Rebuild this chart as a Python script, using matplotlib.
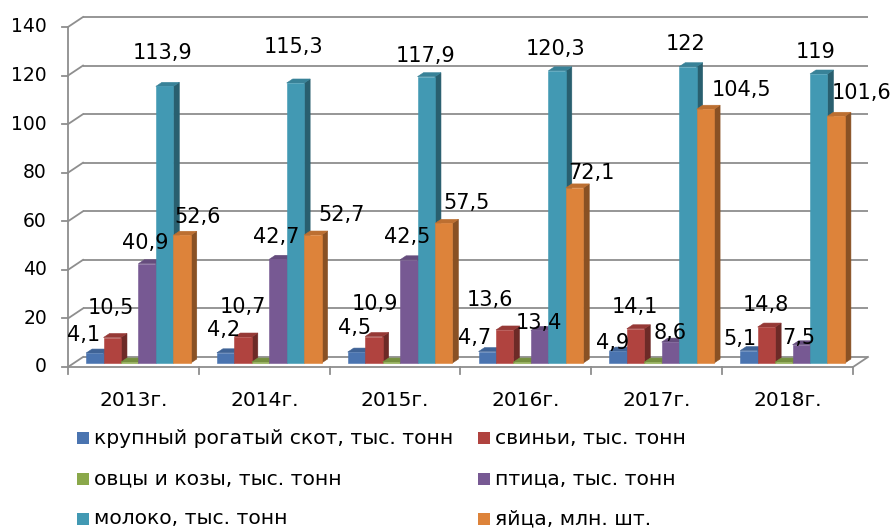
import matplotlib
matplotlib.use('Agg')
import matplotlib.pyplot as plt
from matplotlib.patches import Polygon, Rectangle
import numpy as np

plt.rcParams['font.family'] = ['DejaVu Sans']

# ---------------- data ----------------
years = ['2013г.', '2014г.', '2015г.', '2016г.', '2017г.', '2018г.']
series_names = ['крупный рогатый скот, тыс. тонн', 'свиньи, тыс. тонн',
                'овцы и козы, тыс. тонн', 'птица, тыс. тонн',
                'молоко, тыс. тонн', 'яйца, млн. шт.']
cattle = [4.1, 4.2, 4.5, 4.7, 4.9, 5.1]
pigs = [10.5, 10.7, 10.9, 13.6, 14.1, 14.8]
sheep = [0.4, 0.4, 0.4, 0.4, 0.4, 0.4]
poultry = [40.9, 42.7, 42.5, 13.4, 8.6, 7.5]
milk = [113.9, 115.3, 117.9, 120.3, 122, 119]
eggs = [52.6, 52.7, 57.5, 72.1, 104.5, 101.6]
y_ticks = [0, 20, 40, 60, 80, 100, 120, 140]

series = [cattle, pigs, sheep, poultry, milk, eggs]
show_labels = [True, True, False, True, True, True]

# ---------------- style ----------------
front_colors = ['#4a74b0', '#b0433f', '#8aa84a', '#775993', '#4299b3', '#dd833a']

def shade(hex_color, f):
    r, g, b = matplotlib.colors.to_rgb(hex_color)
    return (r * f, g * f, b * f)

# label offsets (pixels, right / up) relative to bar front-top centre
label_offsets = [
    [(-11, 18), (-2, 23), (-2, 24), (-13, 14), (-6, 8), (-9, 12)],
    [(-1, 30), (0, 30), (1, 33), (-15, 30), (-1, 22), (-1, 22)],
    [(0, 0)] * 6,
    [(-2, 21), (-2, 22), (-2, 23), (-1, 7), (0, 9), (-2, 7)],
    [(-2, 33), (-2, 36), (-1, 21), (-2, 22), (-2, 23), (-3, 22)],
    [(16, 18), (29, 20), (23, 20), (17, 15), (36, 19), (25, 23)],
]

W, H = 893, 529
fig = plt.figure(figsize=(W / 100, H / 100), dpi=100)
X0, X1 = 68, 853     # front x-axis extent (px)
Y0, Y1 = 367, 27     # front y of 0 and 140 (px from top)
ax = fig.add_axes([X0 / W, 1 - Y0 / H, (X1 - X0) / W, (Y0 - Y1) / H])
ncat = len(years)
ax.set_xlim(0, ncat)
ax.set_ylim(0, 140)
ax.axis('off')

sx = (X1 - X0) / ncat
sy = (Y0 - Y1) / 140.0

def off(px, py):
    return px / sx, py / sy

grid_col = '#8e8e8e'
glw = 1.3
wx, wy = off(15, 10)

# back wall gridlines + side-wall diagonals + y ticks
for t in y_ticks:
    ax.plot([wx, ncat + wx], [t + wy, t + wy], color=grid_col, lw=glw, zorder=1, clip_on=False,
            solid_capstyle='butt')
    ax.plot([0, wx], [t, t + wy], color=grid_col, lw=glw, zorder=1, clip_on=False)
    tx, _ = off(6, 0)
    ax.plot([-tx, 0], [t, t], color=grid_col, lw=glw, zorder=1, clip_on=False)
    lx, _ = off(21, 0)
    ax.text(-lx, t, str(t), ha='right', va='center', fontsize=13.5, color='#000000')

# front axis lines
ax.plot([0, 0], [0, 140], color=grid_col, lw=glw, zorder=1, clip_on=False)
ax.plot([0, ncat], [0, 0], color=grid_col, lw=glw, zorder=1, clip_on=False)
ax.plot([ncat, ncat + wx], [0, wy], color=grid_col, lw=glw, zorder=1, clip_on=False)
_, tky = off(0, 7)
for c in range(ncat + 1):
    ax.plot([c, c], [0, -tky], color=grid_col, lw=glw, zorder=1, clip_on=False)
_, cly = off(0, 33)
for c, yr in enumerate(years):
    ax.text(c + 0.5, -cly, yr, ha='center', va='center', fontsize=14.5, color='#000000')

# bars
nser = len(series)
bw = 0.8 / nser
bxo, byo = off(5, 4)
dx, dy = off(6, 4)
for c in range(ncat):
    for i in range(nser):
        v = series[i][c]
        fcol = front_colors[i]
        scol = shade(fcol, 0.62)
        tcol = shade(fcol, 0.85)
        xl = c + 0.1 + i * bw + bxo
        xr = xl + bw
        yb = byo
        yt = v + byo
        ax.add_patch(Polygon([(xr, yb), (xr + dx, yb + dy), (xr + dx, yt + dy), (xr, yt)],
                             closed=True, facecolor=scol, edgecolor=scol, lw=0.4, zorder=3,
                             clip_on=False))
        ax.add_patch(Polygon([(xl, yt), (xr, yt), (xr + dx, yt + dy), (xl + dx, yt + dy)],
                             closed=True, facecolor=tcol, edgecolor=tcol, lw=0.4, zorder=3,
                             clip_on=False))
        ax.add_patch(Rectangle((xl, yb), bw, v, facecolor=fcol, edgecolor=fcol, lw=0.4,
                               zorder=3, clip_on=False))

# data labels
for i in range(nser):
    if not show_labels[i]:
        continue
    for c in range(ncat):
        v = series[i][c]
        xc = c + 0.1 + i * bw + bw / 2
        odx, ody = label_offsets[i][c]
        txt = f"{v:g}".replace('.', ',')
        ax.annotate(txt, xy=(xc, v), xytext=(5 + odx, 4 + ody), textcoords='offset pixels',
                    ha='center', va='center', fontsize=15, color='#000000', zorder=5,
                    annotation_clip=False)

# legend (manual, 2 columns x 3 rows)
leg_cols_x = [77, 478]
leg_rows_y = [438, 479, 519]
sq_w, sq_h = 12, 12
for k, name in enumerate(series_names):
    col = k % 2
    row = k // 2
    x = leg_cols_x[col]
    y = leg_rows_y[row]
    fig.add_artist(Rectangle((x / W, 1 - (y + sq_h / 2) / H), sq_w / W, sq_h / H,
                             transform=fig.transFigure, facecolor=front_colors[k],
                             edgecolor='none'))
    fig.text((x + sq_w + 5) / W, 1 - y / H, name, ha='left', va='center',
             fontsize=14.6, color='#000000')

fig.savefig('out.png', dpi=100)
